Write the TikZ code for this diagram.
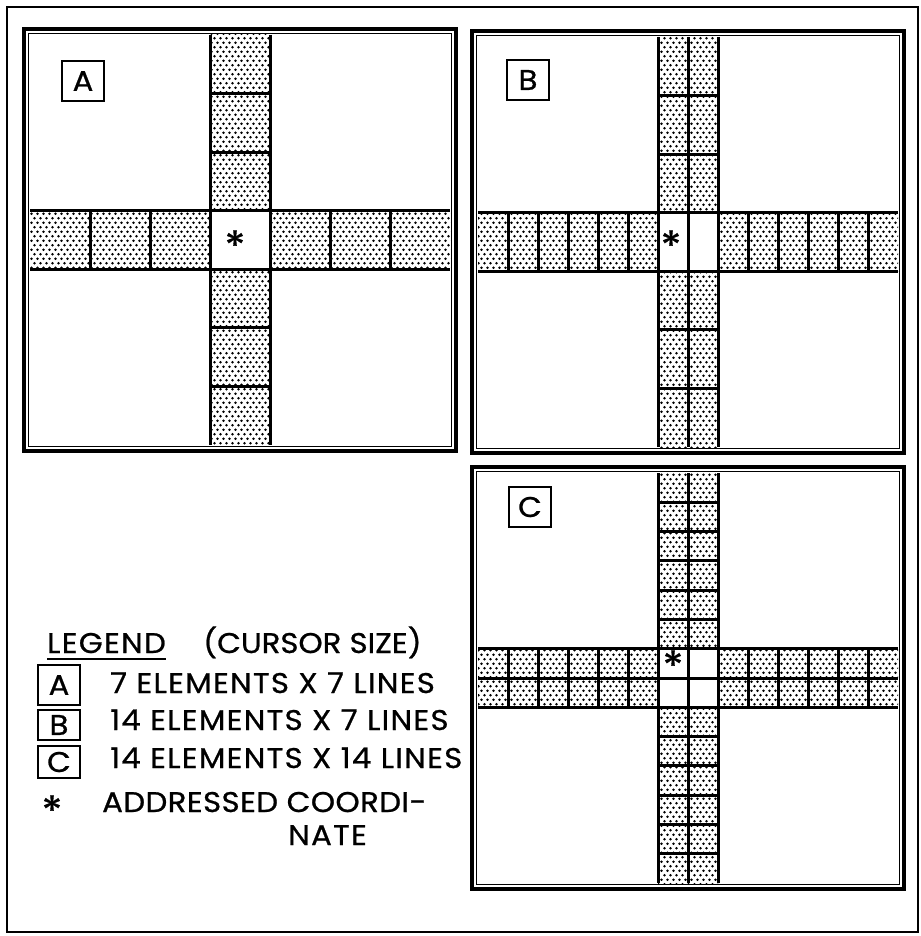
\documentclass[tikz,border=0pt]{standalone}
\usepackage{fontspec}
\setmainfont{Poppins}[FakeStretch=1.08,LetterSpace=4.5,FakeBold=0.8]
\usepackage{tikz}
\usetikzlibrary{patterns.meta}
\tikzdeclarepattern{
  name=stipple,
  type=uncolored,
  bottom left={(-1pt,-1pt)},
  top right={(7pt,10pt)},
  tile size={(6pt,9pt)},
  code={\fill (1.5pt,2.25pt) circle (1.3pt);
        \fill (4.5pt,6.75pt) circle (1.3pt);}
}
% one cursor panel: origin x, origin y, columns, rows, band cols c1 c2, band rows r1 r2
\newcommand{\cursorgrid}[8]{%
  \pgfmathsetmacro{\cw}{420/#3}%
  \pgfmathsetmacro{\rh}{410/#4}%
  \pgfmathtruncatemacro{\lastcol}{#3-1}%
  \pgfmathtruncatemacro{\lastrow}{#4-1}%
  \begin{scope}[shift={(#1,#2)}]
    \fill[pattern=stipple,pattern color=black] (#5*\cw,0) rectangle (#6*\cw,410);
    \fill[pattern=stipple,pattern color=black] (0,#7*\rh) rectangle (420,#8*\rh);
    \fill[white] (#5*\cw,#7*\rh) rectangle (#6*\cw,#8*\rh);
    \foreach \r in {1,...,\lastrow}
      \draw[cellline] (#5*\cw,\r*\rh) -- (#6*\cw,\r*\rh);
    \foreach \c in {1,...,\lastcol}
      \draw[cellline] (\c*\cw,#7*\rh) -- (\c*\cw,#8*\rh);
    \foreach \c in {#5,...,#6}
      \draw[cellline] (\c*\cw,0) -- (\c*\cw,410);
    \foreach \r in {#7,...,#8}
      \draw[cellline] (0,\r*\rh) -- (420,\r*\rh);
    \draw[line width=1.3pt] (-1.5,-1.5) rectangle (421.5,411.5);
    \draw[line width=4.5pt] (-6,-6) rectangle (426,416);
  \end{scope}}

\begin{document}
\begin{tikzpicture}[x=1pt,y=-1pt]
\tikzstyle{every node}=[inner sep=0pt,font=\fontsize{28.5}{30}\selectfont]
\tikzstyle{cellline}=[line width=3pt]
\tikzstyle{tag}=[draw,line width=1.5pt,minimum width=42pt,minimum height=40pt]
\tikzstyle{star}=[font=\fontsize{40}{40}\selectfont]
\useasboundingbox (0,0) rectangle (920,936);
\draw[line width=2pt] (7,7) rectangle (918,932);

% panels
\cursorgrid{30}{35}{7}{7}{3}{4}{3}{4}
\cursorgrid{478}{37}{14}{7}{6}{8}{3}{4}
\cursorgrid{478}{473}{14}{14}{6}{8}{6}{8}

\node[tag] (tagA) at (83,81) {A};
\node[tag] (tagB) at (528,80) {B};
\node[tag] (tagC) at (530,507) {C};

\node[star,anchor=base] (starA) at (235,260) {*};
\node[star,anchor=base] (starB) at (671,260) {*};
\node[star,anchor=base] (starC) at (673,680) {*};

% legend
\node[anchor=base west] (legend) at (47,653) {LEGEND};
\draw[line width=1.8pt] ([yshift=-6pt]legend.south west) -- ([yshift=-6pt]legend.south east);
\node[anchor=base west] (size) at (203,653) {\addfontfeature{LetterSpace=0}(CURSOR SIZE)};
\node[tag,minimum height=40pt] (keyA) at (59,685) {A};
\node[tag,minimum height=30pt] (keyB) at (59,725) {B};
\node[tag,minimum height=32pt] (keyC) at (59,762) {C};
\node[anchor=base west] (lineA) at (110,693) {7 ELEMENTS X 7 LINES};
\node[anchor=base west] (lineB) at (110,730) {14 ELEMENTS X 7 LINES};
\node[anchor=base west] (lineC) at (110,768) {14 ELEMENTS X 14 LINES};
\node[star,anchor=base] (keystar) at (52,825) {*};
\node[anchor=base west] (lineD) at (102,812) {\addfontfeature{LetterSpace=1.5}ADDRESSED COORDI-};
\node[anchor=base west] (lineE) at (288,845) {NATE};
\end{tikzpicture}
\end{document}
